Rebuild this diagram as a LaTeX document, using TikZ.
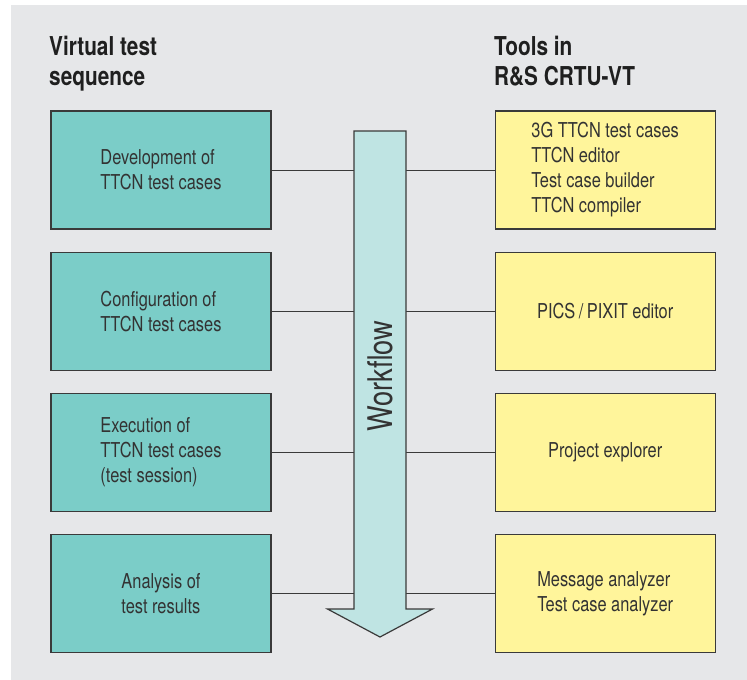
\documentclass[tikz,border=0pt]{standalone}
\usepackage{fontspec}
\setmainfont{TeX Gyre Heros}[FakeStretch=0.8]
\usetikzlibrary{positioning}

\definecolor{panelgray}{HTML}{E6E7E9}
\definecolor{seqteal}{HTML}{7BCDC8}
\definecolor{toolyellow}{HTML}{FFF59B}
\definecolor{flowcyan}{HTML}{BFE4E3}
\definecolor{edgegray}{HTML}{3A3A3A}
\definecolor{textgray}{HTML}{333333}

\tikzset{
  box/.style={draw=edgegray, line width=1.2pt, minimum width=220pt, minimum height=118pt,
    inner sep=0pt, align=left, text=textgray, font=\fontsize{20.5}{25}\selectfont},
  seqbox/.style={box, fill=seqteal},
  toolbox/.style={box, fill=toolyellow},
  heading/.style={anchor=north west, inner sep=0pt, align=left, text=black!88,
    font=\fontsize{26}{30}\selectfont\bfseries},
  link/.style={draw=edgegray, line width=0.9pt},
}

\begin{document}
\begin{tikzpicture}[x=1pt, y=-1pt]
\fill[white] (0,0) rectangle (747,680);
\useasboundingbox (0,0) rectangle (747,680);
\fill[panelgray] (11,5) rectangle (747,680);

% column headings
\node[heading] (seqhead) at (49,36) {Virtual test\\sequence};
\node[heading] (toolhead) at (494,36) {Tools in\\R\&S CRTU-VT};

% test sequence, left column
\node[seqbox] (develop) at (161,170) {Development of\\TTCN test cases};
\node[seqbox, below=22pt of develop] (config) {Configuration of\\TTCN test cases};
\node[seqbox, below=22pt of config] (execute) {Execution of\\TTCN test cases\\(test session)};
\node[seqbox, below=22pt of execute] (analyse) {Analysis of\\test results};

% tools, right column
\node[toolbox, right=223pt of develop] (ttcntools) {3G TTCN test cases\\TTCN editor\\Test case builder\\TTCN compiler};
\node[toolbox, below=22pt of ttcntools] (pics) {PICS\,/\,PIXIT editor};
\node[toolbox, below=22pt of pics] (explorer) {Project explorer};
\node[toolbox, below=22pt of explorer] (analyzer) {Message analyzer\\Test case analyzer};

% workflow arrow
\node[minimum width=52pt, minimum height=478pt, inner sep=0pt, outer sep=0pt] (shaft) at (380,370) {};
\coordinate (tip) at (380,637);

\foreach \s/\t in {develop/ttcntools, config/pics, execute/explorer, analyse/analyzer} {
  \draw[link] (\s.east) -- (\s.east -| shaft.west);
  \draw[link] (\t.west -| shaft.east) -- (\t.west);
}

\draw[draw=edgegray, line width=1.2pt, fill=flowcyan, line join=miter]
  (shaft.north west) -- (shaft.south west) -- ([xshift=-26.5pt]shaft.south west) -- (tip)
  -- ([xshift=26.5pt]shaft.south east) -- (shaft.south east) -- (shaft.north east) -- cycle;
\node[rotate=90, text=textgray, font=\fontsize{34}{36}\selectfont] (flow) at (380,376) {Workflow};
\end{tikzpicture}
\end{document}
